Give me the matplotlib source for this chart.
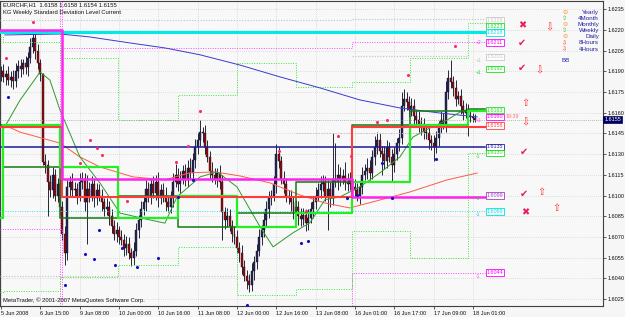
import matplotlib
matplotlib.use("Agg")
import matplotlib.pyplot as plt
import matplotlib.transforms as mtrans
import numpy as np

# EURCHF H1 candles, prices as pips above 1.6000
close = [190, 186, 188, 184, 186, 183, 190, 194, 192, 196,
         193, 200, 208, 214, 205, 196, 188, 124, 122, 110,
         104, 115, 100, 108, 92, 72, 58, 106, 110, 104,
         105, 100, 110, 112, 95, 105, 100, 108, 98, 104,
         100, 95, 90, 92, 85, 78, 72, 75, 70, 68,
         62, 65, 58, 55, 60, 75, 82, 90, 95, 105,
         100, 108, 102, 110, 98, 104, 100, 95, 92, 98,
         110, 115, 108, 112, 118, 112, 120, 116, 126, 135,
         140, 146, 145, 135, 128, 118, 115, 112, 116, 110,
         88, 82, 85, 78, 72, 70, 62, 58, 48, 42,
         38, 35, 45, 52, 60, 70, 75, 82, 90, 98,
         100, 108, 130, 125, 112, 108, 100, 98, 95, 88,
         92, 85, 83, 86, 80, 84, 90, 95, 100, 104,
         108, 110, 100, 105, 98, 112, 110, 115, 112, 114,
         110, 108, 112, 106, 104, 100, 106, 115, 118, 120,
         116, 128, 135, 140, 132, 130, 125, 135, 128, 122,
         130, 138, 142, 165, 170, 168, 162, 165, 158, 155,
         150, 152, 146, 145, 140, 138, 135, 142, 150, 155,
         152, 175, 185, 182, 178, 170, 172, 165, 160, 162,
         158, 157, 156, 155]
first_open = 188
hi_wick = [4, 5, 3, 6, 4, 5, 6, 4, 5, 3,
           5, 4, 6, 7, 4, 5, 3, 1, 6, 4,
           5, 6, 4, 5, 3, 4, 6, 5, 4, 6,
           5, 4, 6, 5, 4, 10, 5, 6, 4, 5,
           4, 5, 3, 6, 4, 5, 4, 6, 3, 5,
           4, 6, 5, 4, 6, 5, 4, 6, 5, 6,
           5, 4, 6, 5, 7, 4, 5, 6, 4, 5,
           6, 8, 5, 6, 4, 5, 6, 7, 5, 6,
           5, 9, 4, 6, 5, 4, 6, 5, 4, 6,
           5, 4, 6, 5, 4, 6, 5, 4, 6, 5,
           4, 5, 6, 4, 5, 6, 4, 5, 6, 5,
           4, 6, 7, 5, 4, 6, 5, 4, 6, 5,
           5, 4, 6, 5, 4, 6, 5, 4, 6, 5,
           6, 5, 4, 6, 5, 33, 26, 8, 6, 5,
           10, 6, 5, 4, 6, 5, 4, 6, 5, 7,
           6, 5, 8, 6, 5, 4, 6, 5, 4, 6,
           5, 4, 6, 10, 7, 5, 4, 6, 5, 4,
           6, 5, 4, 6, 5, 4, 6, 5, 4, 6,
           5, 8, 6, 13, 5, 6, 4, 5, 4, 5,
           4, 3, 3, 3]
lo_wick = [5, 4, 6, 4, 5, 6, 4, 5, 6, 4,
           5, 6, 4, 5, 6, 4, 5, 2, 6, 25,
           5, 6, 4, 5, 6, 4, 8, 5, 6, 4,
           5, 6, 4, 5, 6, 30, 5, 4, 6, 5,
           4, 6, 5, 4, 6, 5, 4, 6, 5, 4,
           6, 5, 4, 6, 5, 4, 6, 5, 4, 6,
           5, 6, 4, 5, 6, 4, 5, 6, 4, 5,
           6, 4, 5, 6, 4, 5, 6, 4, 5, 6,
           5, 4, 6, 5, 4, 6, 5, 4, 6, 5,
           20, 6, 5, 4, 6, 5, 4, 6, 5, 4,
           6, 5, 4, 6, 5, 4, 6, 5, 4, 6,
           5, 4, 6, 5, 4, 6, 5, 4, 6, 5,
           4, 6, 5, 4, 6, 5, 4, 6, 5, 4,
           6, 5, 4, 25, 6, 5, 4, 6, 5, 4,
           6, 5, 4, 6, 5, 4, 6, 5, 4, 6,
           5, 4, 6, 5, 4, 15, 6, 5, 4, 12,
           5, 4, 6, 5, 4, 6, 5, 4, 6, 5,
           4, 6, 5, 4, 6, 5, 10, 4, 6, 5,
           4, 6, 5, 4, 6, 5, 4, 6, 5, 4,
           15, 4, 3, 2]

time_labels = ["5 Jun 2008", "6 Jun 15:00", "9 Jun 08:00", "10 Jun 00:00",
               "10 Jun 16:00", "11 Jun 08:00", "12 Jun 00:00", "12 Jun 16:00",
               "13 Jun 08:00", "16 Jun 01:00", "16 Jun 17:00", "17 Jun 09:00",
               "18 Jun 01:00"]
price_ticks = [1.6235, 1.6220, 1.6205, 1.6190, 1.6175, 1.6160, 1.6145, 1.6130,
               1.6115, 1.6100, 1.6085, 1.6070, 1.6055, 1.6040, 1.6025]

# daily levels (pips), one value per day segment
day_edges = [-0.4, 0.8, 24, 47.8, 72, 96, 120, 143, 166.4, 190, 197]
day_open_lvl = [84, 151, 121, 84, 100, 77, 87, 110, 151, 161]
day_close_lvl = [151, 121, 84, 100, 77, 87, 110, 151, 161, 163]
day_up = [215, 211, 200, 155, 173, 196, 179, 182, 200, 225]
day_dn = [30, 31, 41, 50, 63, 28, 32, 74, 55, 131]

# weekly levels (pips)
week_edges = [-0.4, 25, 143, 197]
week_mid = [220, 112, 99]
week_red = [150, 99, 150]
week_up = [260, 207, 211]
week_dn = [76, -10, 44]

yearly_lvl = 218.5
monthly_lvl = 89
navy_lvl = 135
gray_lvls = [(-0.4, 143, 227), (143, 197, 228), (143, 190, 201),
             (-0.4, 96, 42), (120, 190, 145)]

# moving averages, knots (bar, pips)
ma_blue = [(1.6, 216.4), (24, 217.1), (36, 215), (52.5, 210.6), (66.7, 207),
           (81, 202), (97.2, 194.6), (113.5, 186), (129.8, 178), (146, 169.3),
           (162.3, 163.5), (178.6, 159.8), (193.7, 157)]
ma_red = [(1.6, 151), (7.7, 146), (24, 138), (32.1, 128), (40.3, 120.7),
          (53.7, 113.5), (66.7, 111.4), (76.9, 116.5), (87.1, 117.1),
          (97.2, 114.2), (109.4, 109.2), (121.6, 100.4), (131.8, 94.6),
          (141.9, 91), (154.2, 96.8), (166.4, 102.6), (181.4, 111.3),
          (193.7, 116.3)]
ma_green = [(0.8, 147.5), (7.7, 169), (15.9, 189.5), (19.9, 183.7), (24, 162),
            (32.1, 128), (40.3, 109), (48.4, 87.3), (60.6, 82.3), (66.7, 80),
            (71.6, 99), (81, 113.5), (87.9, 117.2), (96, 106.3), (105.4, 77.3),
            (110.7, 62.8), (118.8, 73), (125.7, 80.3), (131.8, 97), (137.9, 99),
            (146, 106.3), (154.2, 116.5), (162.3, 128), (167.6, 142.4),
            (174.5, 149), (181.4, 154.7), (186.7, 160.5), (193.7, 162)]

# fractal-like dots (bar, pips)
dots_up = [(13, 225.8), (2, 199.7), (36.2, 140.3), (39, 134.5), (41, 129.4),
           (32, 123.6), (51.3, 96), (71.2, 124.3), (76, 135.9), (81, 161.3),
           (113, 132.3), (124, 88.8), (137, 143.2), (142.4, 128.7),
           (153, 153.3), (157, 154.7), (165.6, 187.4), (184.7, 208.4)]
dots_dn = [(2.8, 171.4), (26, 35.2), (34.2, 57.7), (37.8, 54), (39.9, 75),
           (46.4, 49.6), (49.2, 62), (55.3, 48.2), (63.9, 54.7), (72, 99),
           (78.1, 111.3), (100, 20.8), (122, 65.6), (124.9, 67), (140.8, 98.3),
           (144.8, 100.4), (155, 123.6), (159, 98.3), (177, 126.5)]

# value boxes on the right of the levels
box_text = ["1.6228", "1.6223", "1.6218", "1.6211", "1.6201", "1.6192",
            "1.6163", "1.6160", "1.6158", "1.6135", "1.6130", "1.6099",
            "1.6089", "1.6044"]
box_color = ["#c8c8c8", "#22dd22", "#00e0e0", "#ff00ff", "#c8c8c8", "#22dd22",
             "#22dd22", "#ff00ff", "#ff4040", "#2020a0", "#22dd22", "#a040c0",
             "#00e0e0", "#ff00ff"]

legend_names = ["Yearly", "4Month", "Monthly", "Weekly", "Daily", "8Hours", "4Hours"]

W, H = 625, 317
L, R, T, B = 0, 603, 1, 306
# picture rows of the value boxes (they are stacked apart on the chart)
box_rows = [20.5, 26, 32.5, 42.5, 57, 69, 110, 117, 125.5, 147, 153, 195.5, 211.5, 272.5]


def p(v):
    return 1.6 + np.asarray(v, dtype=float) / 10000.0


def ypix(yp):
    # picture row -> price
    return 1.6235 - (yp - 9.3) / 13795.0


def axpt(xp, yp):
    return (xp - L) / (R - L), (B - yp) / (B - T)


fig = plt.figure(figsize=(W / 100, H / 100), dpi=100, facecolor="#f6f6f6")
ax = fig.add_axes([L / W, (H - B) / H, (R - L) / W, (B - T) / H])
ax.set_facecolor("#f8f8f8")
ax.set_xlim(-0.4, (R - 1) / 2.458)
ax.set_ylim(ypix(B), ypix(T))

fs = 4.2
tfs = 4.0
fam = ["Liberation Sans", "DejaVu Sans"]

# grid
for v in price_ticks:
    ax.axhline(v, color="#c4c4c4", lw=0.5, ls=(0, (1, 2)), zorder=0)
for k in range(len(time_labels)):
    ax.axvline(16 * k, color="#c4c4c4", lw=0.5, ls=(0, (1, 2)), zorder=0)

# candles
n = len(close)
idx = np.arange(n)
c = np.array(close, dtype=float)
o = np.concatenate([[first_open], c[:-1]])
hi = np.maximum(o, c) + np.array(hi_wick)
lo = np.minimum(o, c) - np.array(lo_wick)
ax.vlines(idx, p(lo), p(hi), color="#26263a", lw=0.7, zorder=2)
up = c >= o
bot = np.minimum(o, c)
ht = np.maximum(np.abs(c - o), 0.6)
ax.bar(idx[up], ht[up] / 10000, bottom=p(bot[up]), width=0.8,
       color="#24245a", edgecolor="#111122", lw=0.3, zorder=2)
ax.bar(idx[~up], ht[~up] / 10000, bottom=p(bot[~up]), width=0.8,
       color="#9a0a0a", edgecolor="#111122", lw=0.3, zorder=2)


def steps(edges, vals, **kw):
    ax.plot(edges, p(list(vals) + [vals[-1]]), drawstyle="steps-post", **kw)


dot = (0, (1, 1.5))
# weekly lines
steps(week_edges, week_up, color="#ff44ff", lw=0.7, ls=dot, zorder=3)
steps(week_edges, week_dn, color="#ff44ff", lw=0.7, ls=dot, zorder=3)
ax.axvline(24, color="#ff44ff", lw=0.7, ls=dot, zorder=3)
# daily dotted bands
steps(day_edges, day_up, color="#33ee33", lw=0.7, ls=dot, zorder=3)
steps(day_edges, day_dn, color="#33ee33", lw=0.7, ls=dot, zorder=3)
for x0, x1, v in gray_lvls:
    ax.plot([x0, x1], p([v, v]), color="#c0c0c0", lw=0.8, ls=dot, zorder=3)
ax.plot([-0.4, 197], p([monthly_lvl] * 2), color="#33e6e6", lw=0.7, ls=dot, zorder=3)

# moving averages
for pts, col in [(ma_blue, "#3a3ad0"), (ma_red, "#ff5a4a"), (ma_green, "#2e9a2e")]:
    arr = np.array(pts)
    ax.plot(arr[:, 0], p(arr[:, 1]), color=col, lw=0.7, zorder=4)

# thick levels
ax.plot([-0.4, 197], p([yearly_lvl] * 2), color="#00eaea", lw=2.2, zorder=4)
ax.plot([-0.4, 197], p([navy_lvl] * 2), color="#1a1a9a", lw=1.1, zorder=4)
steps(day_edges, day_close_lvl, color="#107a10", lw=1.1, zorder=4)
steps(day_edges, day_open_lvl, color="#22f022", lw=1.6, zorder=4)
steps(week_edges, week_red, color="#ff3c3c", lw=1.5, zorder=4)
steps(week_edges, week_mid, color="#ff22ee", lw=1.8, zorder=4)

# bid line
ax.axhline(p(close[-1]), color="#a0a0a0", lw=0.6, ls=dot, zorder=3)

# dots
a = np.array(dots_up)
ax.scatter(a[:, 0], p(a[:, 1]), s=5, color="#ff2a6a", zorder=6, lw=0)
a = np.array(dots_dn)
ax.scatter(a[:, 0], p(a[:, 1]), s=5, color="#1010c0", zorder=6, lw=0)

# value boxes
for s, col, yp in zip(box_text, box_color, box_rows):
    ax.text(*axpt(487, yp), s, transform=ax.transAxes, color=col, fontsize=3.9,
            family=fam, va="center", ha="left", zorder=7,
            bbox=dict(boxstyle="square,pad=0.15", fc="white", ec=col, lw=0.6))
for s, yp, col in [("+2", 43, "#ff44ff"), ("+1", 61, "#c0c0c0"), ("+1", 72, "#22dd22"),
                   ("+1", 121, "#ff44ff"), ("-1", 157, "#22dd22"),
                   ("-1", 199, "#22dd22"), ("-1", 215, "#00d0d0"), ("-1", 277, "#ff44ff")]:
    ax.text(*axpt(476, yp), s, transform=ax.transAxes, color=col, fontsize=3.6,
            family=fam, va="center", ha="left", zorder=7)
ax.text(*axpt(506, 116), "19:39", transform=ax.transAxes, color="#ff7070",
        fontsize=3.9, family=fam, va="center", ha="left", zorder=8)

# signal marks
marks = [(522, 25, "\u2716", "#e8205a"), (549, 27, "\u21e9", "#ff3030"),
         (522, 43, "\u2714", "#e8205a"), (522, 68, "\u2714", "#e8205a"),
         (539, 70, "\u21e9", "#ff3030"), (525, 103, "\u21e7", "#ff3030"),
         (525, 122, "\u21e9", "#ff3030"), (524, 152, "\u2714", "#e8205a"),
         (524, 194, "\u2714", "#e8205a"), (541, 192, "\u21e7", "#ff3030"),
         (556, 208, "\u21e7", "#ff3030"), (525, 212, "\u2716", "#e8205a")]
for xp, yp, s, col in marks:
    ax.text(*axpt(xp, yp), s, transform=ax.transAxes, color=col, fontsize=7,
            family=["DejaVu Sans"], va="center", ha="center", zorder=7)

leg_sym = [("\u2296", "#ff9a30"), ("\u21e7", "#30c030"), ("\u2296", "#ff9a30"),
           ("\u21e7", "#30c030"), ("\u2296", "#ff9a30"), ("\u21e9", "#ff3030"),
           ("\u21e9", "#ff3030")]
for k, (name, (s, col)) in enumerate(zip(legend_names, leg_sym)):
    yp = 12.5 + 6.1 * k
    ax.text(*axpt(565, yp), s, transform=ax.transAxes, color=col, fontsize=4.5,
            family=["DejaVu Sans"], va="center", ha="center", zorder=7)
    ax.text(*axpt(599, yp), name, transform=ax.transAxes, color="#2020a0",
            fontsize=4.5, family=fam, va="center", ha="right", zorder=7)
ax.text(*axpt(566, 61), "BB", transform=ax.transAxes, color="#2020c0",
        fontsize=4.5, family=fam, va="center", ha="center", zorder=7)

# header and footer
ax.text(*axpt(3, 5), "EURCHF,H1  1.6158 1.6158 1.6154 1.6155", transform=ax.transAxes,
        fontsize=fs, family=fam, color="#101010", va="center", ha="left", zorder=8)
ax.text(*axpt(3, 12.5), "KG Weekly Standard Deviation Level Current", transform=ax.transAxes,
        fontsize=fs, family=fam, color="#101010", va="center", ha="left", zorder=8)
ax.text(*axpt(3, 300.5), "MetaTrader, \u00a9 2001-2007 MetaQuotes Software Corp.",
        transform=ax.transAxes, fontsize=fs, family=fam, color="#101010",
        va="center", ha="left", zorder=8)

# axes
for sp in ax.spines.values():
    sp.set_color("#404040")
    sp.set_linewidth(0.8)
ax.yaxis.tick_right()
ax.set_yticks(price_ticks)
ax.set_yticklabels(["%.4f" % v for v in price_ticks], fontsize=tfs, family=fam)
ax.set_xticks([16 * k for k in range(len(time_labels))])
ax.set_xticklabels(time_labels, fontsize=tfs, family=fam, ha="left")
ax.tick_params(axis="both", length=2.2, width=0.6, color="#404040", pad=1.2,
               labelcolor="#101010")
ax.text(1.002, p(close[-1]), "1.6155", transform=mtrans.blended_transform_factory(
    ax.transAxes, ax.transData), color="white", fontsize=tfs, family=fam,
    va="center", ha="left", zorder=9,
    bbox=dict(boxstyle="square,pad=0.15", fc="#000060", ec="#000060", lw=0.5),
    clip_on=False)

fig.savefig("out.png", dpi=100, facecolor=fig.get_facecolor())
